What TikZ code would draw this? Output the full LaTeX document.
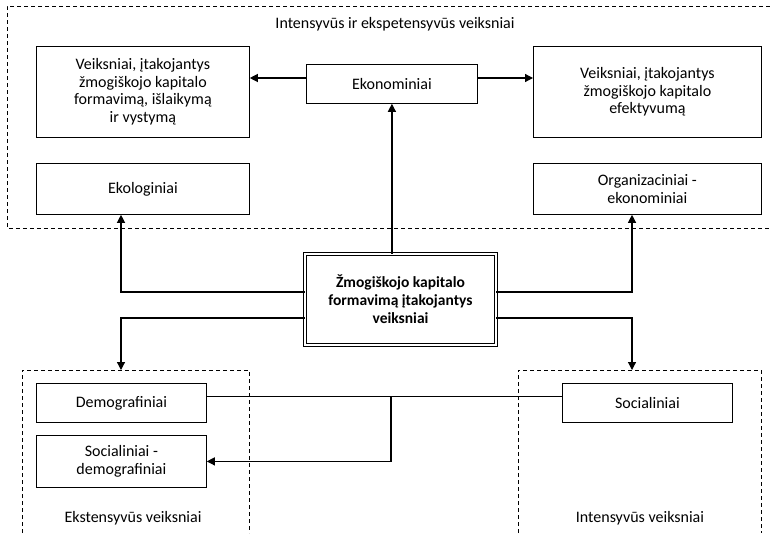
\documentclass[tikz,border=0pt]{standalone}
\usepackage{fontspec}
\setmainfont{Carlito}
\usepackage{tikz}
\usetikzlibrary{arrows.meta, positioning, calc}

\begin{document}
\begin{tikzpicture}[
    x=1pt, y=-1pt,
    box/.style={draw, line width=0.8pt, anchor=north west, align=center, inner sep=2pt, font=\fontsize{16}{17.5}\selectfont},
    core/.style={draw, double, double distance=1.6pt, line width=0.9pt, align=center, font=\fontsize{15.5}{18}\selectfont\bfseries},
    arr/.style={-{Triangle[length=8pt, width=8pt]}, line width=1.2pt},
    ln/.style={line width=1pt},
    zone/.style={dashed, line width=0.9pt, dash pattern=on 4pt off 3pt},
    lbl/.style={font=\fontsize{16}{17.5}\selectfont}
]
\useasboundingbox (0,0) rectangle (770,533);

% dashed groups
\draw[zone] (770,6) -- (7,6) -- (7,228) -- (770,228);
\draw[zone] (22,533) -- (22,370) -- (249,370) -- (249,533);
\draw[zone] (518,533) -- (518,370) -- (761,370) -- (761,533);
\node[lbl] (top) at (395,24) {Intensyvūs ir ekspetensyvūs veiksniai};
\node[lbl] (ext) at (133,518) {Ekstensyvūs veiksniai};
\node[lbl] (int) at (640,518) {Intensyvūs veiksniai};
\coordinate (extin) at (121,370);
\coordinate (intin) at (632,370);

% boxes
\node[box, minimum width=213pt, minimum height=91pt] (form) at (36,46)
    {Veiksniai, įtakojantys\\žmogiškojo kapitalo\\formavimą, išlaikymą\\ir vystymą};
\node[box, minimum width=171pt, minimum height=39pt] (econ) at (306,64) {Ekonominiai};
\node[box, minimum width=228pt, minimum height=91pt] (eff) at (533,46)
    {Veiksniai, įtakojantys\\žmogiškojo kapitalo\\efektyvumą};
\node[box, minimum width=213pt, minimum height=51pt] (eco) at (36,163) {Ekologiniai};
\node[box, minimum width=228pt, minimum height=51pt] (org) at (533,163) {Organizaciniai -\\ekonominiai};
\node[core, minimum width=191pt, minimum height=91pt] (core) at (400.5,299.5)
    {Žmogiškojo kapitalo\\formavimą įtakojantys\\veiksniai};
\node[box, minimum width=170pt, minimum height=39pt] (demo) at (36,383) {Demografiniai};
\node[box, minimum width=170pt, minimum height=52pt] (sd) at (36,435) {Socialiniai -\\demografiniai};
\node[box, minimum width=170pt, minimum height=39pt] (soc) at (562,383) {Socialiniai};
\coordinate (j) at (391,396);

% connectors
\draw[arr] (econ.west |- 0,78) -- (form.east |- 0,78);
\draw[arr] (econ.east |- 0,78) -- (eff.west |- 0,78);
\draw[arr] (core.north -| econ.south) -- (econ.south);
\draw[arr] (core.west |- 0,292) -| (eco.south -| 121,0);
\draw[arr] (core.west |- 0,318) -| (extin);
\draw[arr] (core.east |- 0,292) -| (org.south -| 632,0);
\draw[arr] (core.east |- 0,318) -| (intin);
\draw[ln] (demo.east |- j) -- (soc.west |- j);
\draw[arr] (j) |- (sd.east);
\end{tikzpicture}
\end{document}
